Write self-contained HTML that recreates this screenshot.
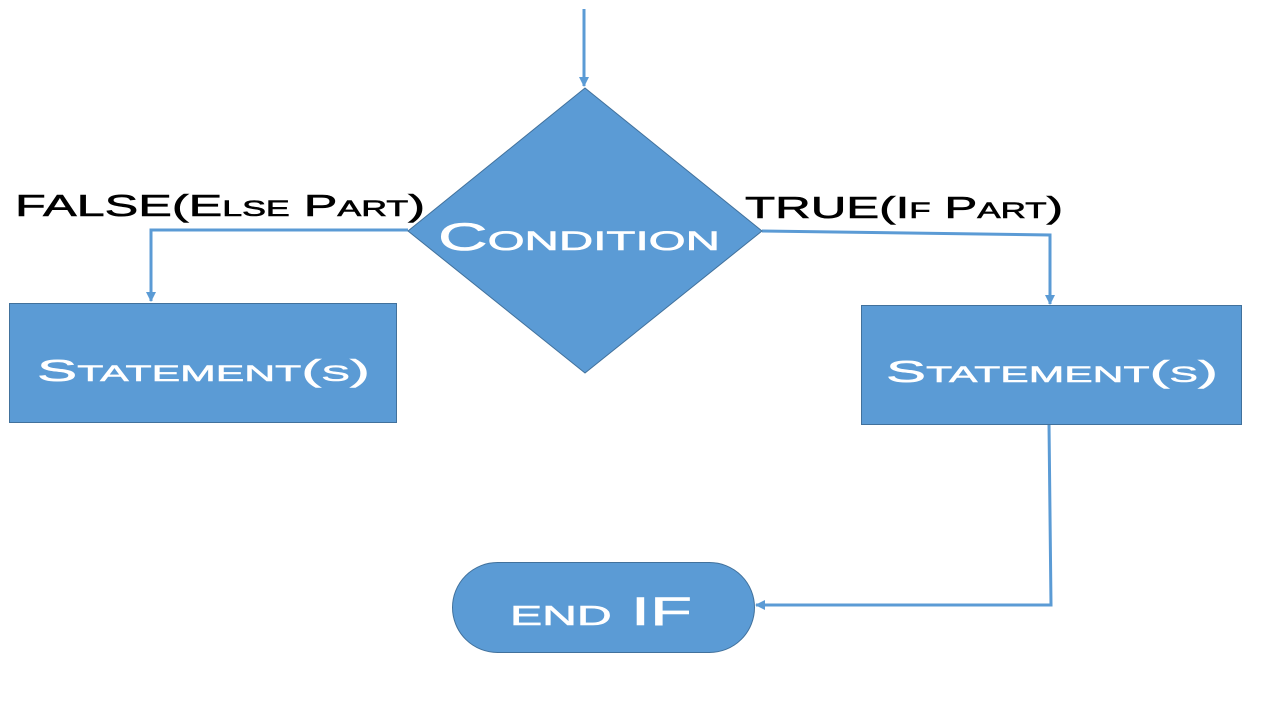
<!DOCTYPE html>
<html><head><meta charset="utf-8"><style>
html,body{margin:0;padding:0;background:#fff;}
svg{display:block}
text{font-family:"Liberation Sans",sans-serif;font-variant:small-caps;}
</style></head><body>
<svg width="1280" height="720" viewBox="0 0 1280 720" xmlns="http://www.w3.org/2000/svg">
<defs>
<marker id="a" markerWidth="10" markerHeight="10" refX="9" refY="5" orient="auto" markerUnits="userSpaceOnUse">
<path d="M0,0 L10,5 L0,10 Z" fill="#5B9BD5"/></marker>
</defs>
<g stroke="#5B9BD5" stroke-width="3" fill="none">
<line x1="584" y1="9" x2="584" y2="86" marker-end="url(#a)"/>
<polyline points="408,230 151,230 151,301" marker-end="url(#a)"/>
<polyline points="762,231 1050,235 1050,304" marker-end="url(#a)"/>
<polyline points="1049,424 1051,605 756,605" marker-end="url(#a)"/>
</g>
<polygon points="585,88 762,231 585,373 408,231" fill="#5B9BD5" stroke="#41719C" stroke-width="1"/>
<rect x="9.5" y="303.5" width="387" height="119" fill="#5B9BD5" stroke="#41719C"/>
<rect x="861.5" y="305.5" width="380" height="119" fill="#5B9BD5" stroke="#41719C"/>
<rect x="452.5" y="562.5" width="302" height="90" rx="45" fill="#5B9BD5" stroke="#41719C"/>
<text x="15" y="216" font-size="31" stroke="#000" stroke-width="0.6" fill="#000" textLength="410" lengthAdjust="spacingAndGlyphs">FALSE(Else Part)</text>
<text x="745" y="218" font-size="31" stroke="#000" stroke-width="0.6" fill="#000" textLength="318" lengthAdjust="spacingAndGlyphs">TRUE(If Part)</text>
<text x="438" y="250" font-size="39" stroke="#fff" stroke-width="0.6" fill="#fff" textLength="282" lengthAdjust="spacingAndGlyphs">Condition</text>
<text x="37" y="381" font-size="31" stroke="#fff" stroke-width="0.5" fill="#fff" textLength="333" lengthAdjust="spacingAndGlyphs">Statement(s)</text>
<text x="886" y="382" font-size="31" stroke="#fff" stroke-width="0.5" fill="#fff" textLength="332" lengthAdjust="spacingAndGlyphs">Statement(s)</text>
<text x="510" y="625" font-size="40" stroke="#fff" stroke-width="0.6" fill="#fff" textLength="182" lengthAdjust="spacingAndGlyphs">end IF</text>
</svg>
</body></html>
